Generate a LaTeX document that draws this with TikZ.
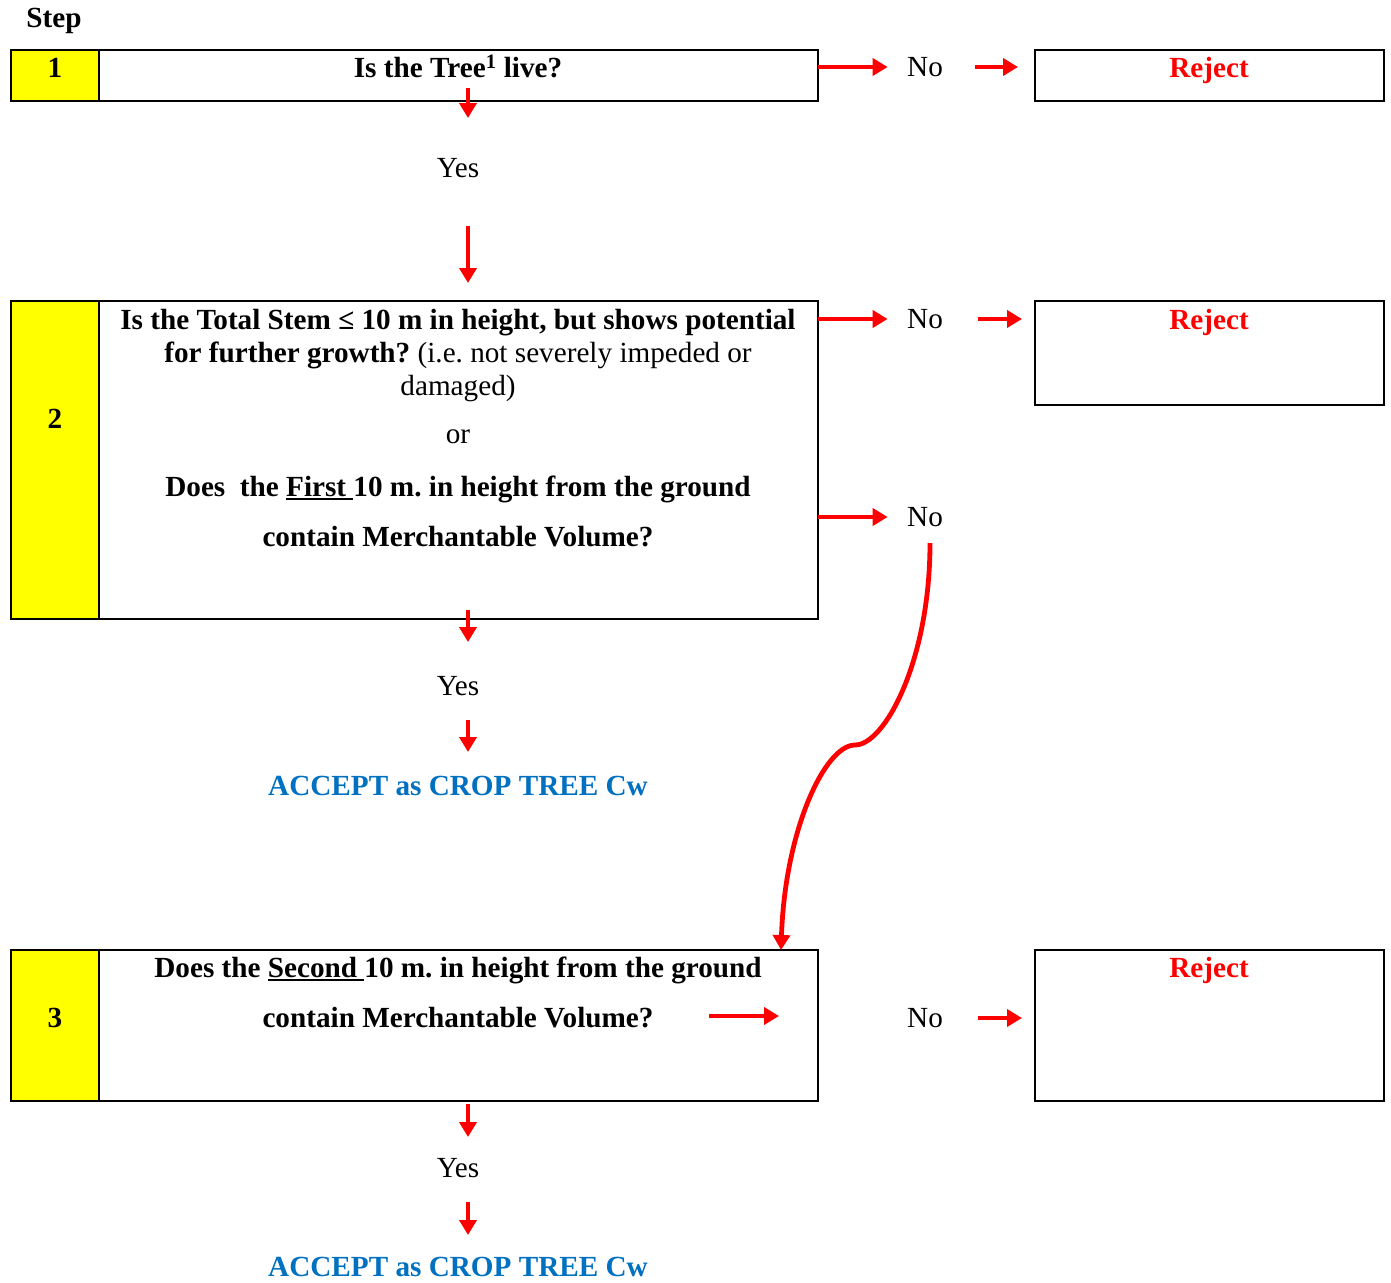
\documentclass[tikz,border=0pt]{standalone}
\usepackage{fontspec}
\setmainfont{Liberation Serif}
\usetikzlibrary{arrows.meta,calc}
\definecolor{rejred}{HTML}{FF0000}
\definecolor{accblue}{HTML}{0070C0}
\definecolor{stepyellow}{HTML}{FFFF00}
\newcommand\dfs{\fontsize{29.2}{33}\selectfont\frenchspacing}
\newsavebox\myulbox
\newcommand\myul[1]{\sbox\myulbox{#1}\rlap{\rule[-3.5pt]{\wd\myulbox}{2pt}}\usebox\myulbox}
\begin{document}
\begin{tikzpicture}[x=1pt,y=-1pt,
  every node/.style={inner sep=0pt,outer sep=0pt},
  cellbox/.style={draw=black,line width=2pt,inner sep=0pt},
  txt/.style={font=\dfs,text height=19.5pt,text depth=0.5pt},
  btxt/.style={font=\dfs\bfseries,text height=19.5pt,text depth=0.5pt},
  rejtxt/.style={btxt,text=rejred},
  acctxt/.style={btxt,text=accblue},
  rarr/.style={draw=rejred,line width=4.8pt,-{Triangle[width=17pt,length=15pt]}}]
\fill[white] (0,0) rectangle (1391,1282);
\useasboundingbox (0,0) rectangle (1391,1282);

% ---- boxes ----
\node[cellbox,fill=stepyellow,minimum width=88pt,minimum height=51pt] (s1) at (55,75.5) {};
\node[cellbox,minimum width=719pt,minimum height=51pt] (q1) at (458.5,75.5) {};
\node[cellbox,minimum width=349pt,minimum height=51pt] (r1) at (1209.5,75.5) {};

\node[cellbox,fill=stepyellow,minimum width=88pt,minimum height=318pt] (s2) at (55,460) {};
\node[cellbox,minimum width=719pt,minimum height=318pt] (q2) at (458.5,460) {};
\node[cellbox,minimum width=349pt,minimum height=104pt] (r2) at (1209.5,353) {};

\node[cellbox,fill=stepyellow,minimum width=88pt,minimum height=151pt] (s3) at (55,1025.5) {};
\node[cellbox,minimum width=719pt,minimum height=151pt] (q3) at (458.5,1025.5) {};
\node[cellbox,minimum width=349pt,minimum height=151pt] (r3) at (1209.5,1025.5) {};

% ---- texts ----
\node[btxt] (steplbl) at (54,18) {Step};
\node[btxt] (n1) at (55,68) {1};
\node[btxt] (n2) at (55,419) {2};
\node[btxt] (n3) at (55,1018) {3};

\node[btxt] (q1t) at (458,68) {Is the Tree\textsuperscript{1} live?};

\node[btxt] (q2a) at (458,320) {Is the Total Stem ≤ 10 m in height, but shows potential};
\node[txt] (q2b) at (458,353) {\bfseries for further growth?\mdseries{} (i.e. not severely impeded or};
\node[txt] (q2c) at (458,386) {damaged)};
\node[txt] (q2or) at (458,434) {or};
\node[btxt] (q2d) at (458,487) {Does\ \ the \myul{First\ }10 m. in height from the ground};
\node[btxt] (q2e) at (458,537) {contain Merchantable Volume?};

\node[btxt] (q3a) at (458,968) {Does the \myul{Second\ }10 m. in height from the ground};
\node[btxt] (q3b) at (458,1018) {contain Merchantable Volume?};

\node[rejtxt] (rj1) at (1209,68) {Reject};
\node[rejtxt] (rj2) at (1209,320) {Reject};
\node[rejtxt] (rj3) at (1209,968) {Reject};

\node[txt] (no1) at (925,67) {No};
\node[txt] (no2) at (925,319) {No};
\node[txt] (no3) at (925,517) {No};
\node[txt] (no4) at (925,1018) {No};

\node[txt] (yes1) at (458,168) {Yes};
\node[txt] (yes2) at (458,686) {Yes};
\node[txt] (yes3) at (458,1168) {Yes};

\node[acctxt] (acc1) at (458,786) {ACCEPT as CROP TREE Cw};
\node[acctxt] (acc2) at (458,1267) {ACCEPT as CROP TREE Cw};

% ---- horizontal connectors ----
\draw[rarr,shorten >=19.5pt] (q1.east |- no1) -- (no1.west);
\draw[rarr,shorten <=32pt,shorten >=17pt] (no1.east) -- (r1.west |- no1);
\draw[rarr,shorten >=19.5pt] (q2.east |- no2) -- (no2.west);
\draw[rarr,shorten <=35pt,shorten >=13pt] (no2.east) -- (r2.west |- no2);
\draw[rarr,shorten >=19.5pt] (q2.east |- no3) -- (no3.west);
\coordinate (d1s) at (709,1016);
\coordinate (d1e) at (779,1016);
\draw[rarr] (d1s) -- (d1e);
\draw[rarr,shorten <=35pt,shorten >=13pt] (no4.east) -- (r3.west |- no4);

% ---- curved connector ----
\coordinate (cst) at (930,543);
\coordinate (cmid) at (855,745);
\coordinate (cend) at (781,950);
\draw[rarr] (cst) .. controls +(0,117) and +(30,0) .. (cmid)
  .. controls +(-30,0) and +(4,-120) .. (q3.north -| cend);

% ---- vertical connectors ----
\coordinate (v1s) at (468,88);   \coordinate (v1e) at (468,118);
\coordinate (v2s) at (468,226);  \coordinate (v2e) at (468,283);
\coordinate (v3s) at (468,610);  \coordinate (v3e) at (468,642);
\coordinate (v4s) at (468,720);  \coordinate (v4e) at (468,752);
\coordinate (v5s) at (468,1104); \coordinate (v5e) at (468,1137);
\coordinate (v6s) at (468,1202); \coordinate (v6e) at (468,1235);
\draw[rarr] (v1s) -- (v1e);
\draw[rarr] (v2s) -- (v2e);
\draw[rarr] (v3s) -- (v3e);
\draw[rarr] (v4s) -- (v4e);
\draw[rarr] (v5s) -- (v5e);
\draw[rarr] (v6s) -- (v6e);
\end{tikzpicture}
\end{document}
